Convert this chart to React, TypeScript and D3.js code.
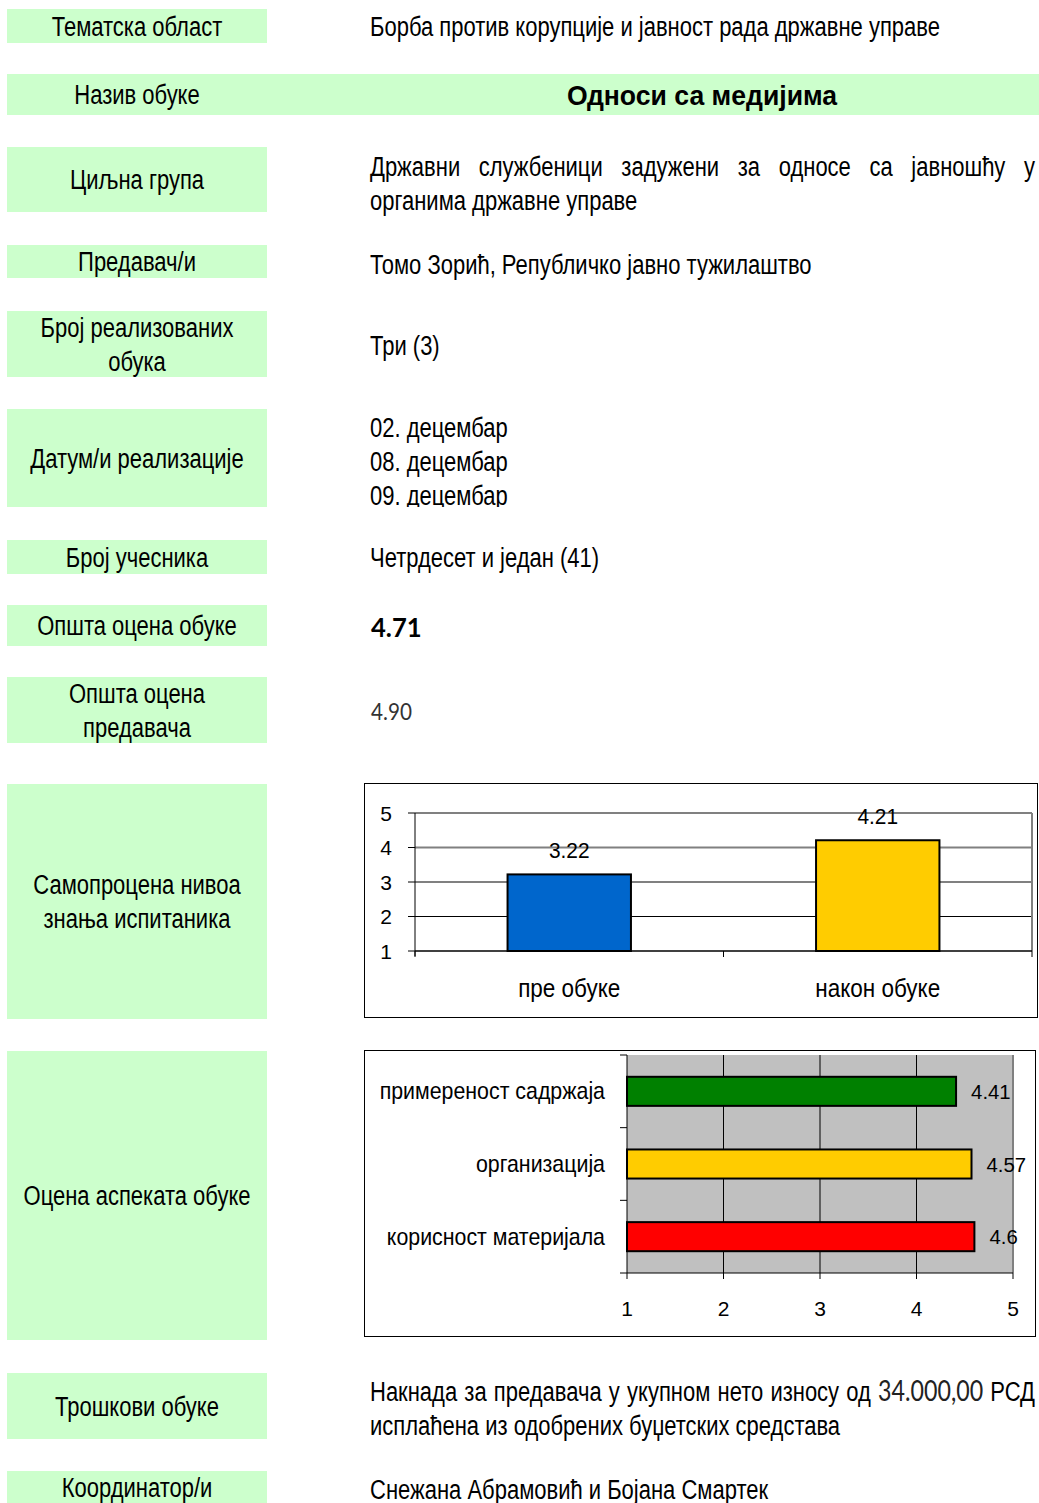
import React, { useEffect, useRef } from "react";
import * as d3 from "d3";

const W = 1039;
const H = 1503;

const rowLabels: string[][] = [
  ["Тематска област"],
  ["Назив обуке"],
  ["Циљна група"],
  ["Предавач/и"],
  ["Број реализованих", "обука"],
  ["Датум/и реализације"],
  ["Број учесника"],
  ["Општа оцена обуке"],
  ["Општа оцена", "предавача"],
  ["Самопроцена нивоа", "знања испитаника"],
  ["Оцена аспеката обуке"],
  ["Трошкови обуке"],
  ["Координатор/и"],
];
const rowTops = [9, 74, 147, 245, 311, 409, 540, 605, 677, 784, 1051, 1373, 1471];
const rowHeights = [34, 41, 65, 33, 66, 98, 34, 41, 66, 235, 289, 66, 32];

const topicText = "Борба против корупције и јавност рада државне управе";
const courseTitle = "Односи са медијима";
const targetLines = ["Државни службеници задужени за односе са јавношћу у", "органима државне управе"];
const lecturerText = "Томо Зорић, Републичко јавно тужилаштво";
const countText = "Три (3)";
const dateLines = ["02. децембар", "08. децембар", "09. децембар"];
const participantsText = "Четрдесет и један (41)";
const overallCourse = "4.71";
const overallLecturer = "4.90";
const costPre = "Накнада за предавача у укупном нето износу од ";
const costAmount = "34.000,00";
const costPost = " РСД";
const costLine2 = "исплаћена из одобрених буџетских средстава";
const coordText = "Снежана Абрамовић и Бојана Смартек";

const selfCats = ["пре обуке", "након обуке"];
const selfVals = [3.22, 4.21];
const selfColors = ["#0066CC", "#FFCC00"];
const selfTicks = [1, 2, 3, 4, 5];

const aspectCats = ["примереност садржаја", "организација", "корисност материјала"];
const aspectVals = [4.41, 4.57, 4.6];
const aspectColors = ["#008000", "#FFCC00", "#FF0000"];
const aspectTicks = [1, 2, 3, 4, 5];

const ARIAL = "'Liberation Sans', Arial, sans-serif";
const CALIBRI = "Lato, 'Open Sans', sans-serif";
const GREEN = "#CCFFCC";
const SX = 0.815;

export default function App() {
  const ref = useRef<SVGSVGElement | null>(null);

  useEffect(() => {
    const svg = d3.select(ref.current);
    svg.selectAll("*").remove();
    svg.append("rect").attr("width", W).attr("height", H).attr("fill", "#fff");

    const defs = svg.append("defs");
    defs.append("clipPath").attr("id", "clipDates")
      .append("rect").attr("x", 0).attr("y", rowTops[5]).attr("width", W).attr("height", rowHeights[5]);

    // condensed text helper
    const ntext = (parent: any, x: number, y: number, s: string, o: any = {}) => {
      const g = parent.append("g").attr("transform", `translate(${x},${y}) scale(${o.sx ?? SX},1)`);
      const t = g.append("text").attr("x", 0).attr("y", 0)
        .attr("font-family", o.family ?? ARIAL).attr("font-size", o.size ?? 27)
        .attr("font-weight", o.weight ?? "normal")
        .attr("text-anchor", o.anchor ?? "start").attr("fill", o.fill ?? "#000");
      if (s) t.text(s);
      return t;
    };
    const justify = (sel: any, target: number) => {
      const node = sel.node() as SVGTextElement;
      const len = node.getComputedTextLength();
      const txt = node.textContent || "";
      const gaps = (txt.match(/ /g) || []).length;
      if (gaps > 0) sel.attr("word-spacing", (target - len) / gaps);
    };

    // label boxes
    rowLabels.forEach((lines, i) => {
      const y = rowTops[i];
      const h = rowHeights[i];
      svg.append("rect").attr("x", 7).attr("y", y)
        .attr("width", i === 1 ? W - 7 : 260).attr("height", h).attr("fill", GREEN);
      const cy = y + h / 2;
      lines.forEach((ln, j) => {
        const off = (j - (lines.length - 1) / 2) * 34;
        ntext(svg, 137, cy + off + 9.5, ln, { anchor: "middle" });
      });
    });

    const tx = 370;
    const right = 1035;

    ntext(svg, tx, 36, topicText);
    ntext(svg, 702, 105, courseTitle, { anchor: "middle", weight: "bold", size: 28, sx: 0.95 });
    justify(ntext(svg, tx, 176, targetLines[0]), (right - tx) / SX);
    ntext(svg, tx, 210, targetLines[1]);
    ntext(svg, tx, 274, lecturerText);
    ntext(svg, tx, 355, countText);
    const dg = svg.append("g").attr("clip-path", "url(#clipDates)");
    dateLines.forEach((d, i) => {
      ntext(dg, tx, 437 + i * 34, d);
    });
    ntext(svg, tx, 567, participantsText);
    ntext(svg, 371, 637, overallCourse, { family: CALIBRI, size: 27, weight: "bold", sx: 0.95 });
    ntext(svg, 371, 720, overallLecturer, { family: CALIBRI, size: 23, sx: 0.9, fill: "#333" });

    const cost = ntext(svg, tx, 1401, "");
    cost.append("tspan").text(costPre);
    cost.append("tspan").attr("font-family", CALIBRI).attr("font-size", 28.5).attr("fill", "#222").text(costAmount);
    cost.append("tspan").text(costPost);
    justify(cost, (right - tx) / SX);
    ntext(svg, tx, 1435, costLine2);
    ntext(svg, tx, 1499, coordText);

    // ---- Chart 1: self assessment ----
    const c1 = svg.append("g");
    c1.append("rect").attr("x", 364.5).attr("y", 783.5).attr("width", 673).attr("height", 234)
      .attr("fill", "#fff").attr("stroke", "#000").attr("stroke-width", 1);
    const x1 = d3.scaleBand<string>().domain(selfCats).range([415, 1032]).padding(0);
    const y1 = d3.scaleLinear().domain([1, 5]).range([951, 813]);
    selfTicks.forEach((t) => {
      if (t === 1) return;
      c1.append("line").attr("x1", 415).attr("x2", 1032).attr("y1", y1(t)).attr("y2", y1(t))
        .attr("stroke", t === 2 ? "#000" : "#808080").attr("stroke-width", t === 2 ? 1 : 2);
    });
    c1.append("line").attr("x1", 1032).attr("x2", 1032).attr("y1", y1(5)).attr("y2", y1(1))
      .attr("stroke", "#808080").attr("stroke-width", 2);
    selfCats.forEach((c, i) => {
      const bx = (x1(c) as number) + x1.bandwidth() * 0.3;
      const bw = x1.bandwidth() * 0.4;
      c1.append("rect").attr("x", bx).attr("y", y1(selfVals[i])).attr("width", bw)
        .attr("height", y1(1) - y1(selfVals[i])).attr("fill", selfColors[i])
        .attr("stroke", "#000").attr("stroke-width", 2);
      ntext(c1, bx + bw / 2, y1(selfVals[i]) - 16, selfVals[i].toFixed(2), { anchor: "middle", size: 22, sx: 0.95 });
      ntext(c1, bx + bw / 2, 997, c, { anchor: "middle", size: 25, sx: 0.9 });
    });
    c1.append("line").attr("x1", 415).attr("x2", 1032).attr("y1", y1(1)).attr("y2", y1(1))
      .attr("stroke", "#000").attr("stroke-width", 1.5);
    c1.append("line").attr("x1", 415).attr("x2", 415).attr("y1", y1(5)).attr("y2", y1(1) + 5)
      .attr("stroke", "#000").attr("stroke-width", 1);
    selfTicks.forEach((t) => {
      c1.append("line").attr("x1", 408).attr("x2", 415).attr("y1", y1(t)).attr("y2", y1(t))
        .attr("stroke", "#000");
      ntext(c1, 392, y1(t) + 7.5, String(t), { anchor: "end", size: 21, sx: 1 });
    });
    [0, 1, 2].forEach((k) => {
      const xx = 415 + k * x1.step();
      c1.append("line").attr("x1", xx).attr("x2", xx).attr("y1", y1(1)).attr("y2", y1(1) + 6)
        .attr("stroke", "#000");
    });

    // ---- Chart 2: aspects ----
    const c2 = svg.append("g");
    c2.append("rect").attr("x", 364.5).attr("y", 1050.5).attr("width", 671).attr("height", 286)
      .attr("fill", "#fff").attr("stroke", "#000").attr("stroke-width", 1);
    const x2 = d3.scaleLinear().domain([1, 5]).range([627, 1013]);
    const y2 = d3.scaleBand<string>().domain(aspectCats).range([1055, 1273]).padding(0);
    c2.append("rect").attr("x", 627).attr("y", 1055).attr("width", x2(5) - 627).attr("height", 1273 - 1055)
      .attr("fill", "#C0C0C0");
    aspectTicks.forEach((t) => {
      if (t === 1) return;
      c2.append("line").attr("x1", x2(t)).attr("x2", x2(t)).attr("y1", 1055).attr("y2", 1273)
        .attr("stroke", t === 5 ? "#808080" : "#000").attr("stroke-width", t === 5 ? 2 : 1);
    });
    aspectCats.forEach((c, i) => {
      const by = (y2(c) as number) + y2.bandwidth() * 0.3;
      const bh = y2.bandwidth() * 0.4;
      c2.append("rect").attr("x", x2(1)).attr("y", by).attr("width", x2(aspectVals[i]) - x2(1))
        .attr("height", bh).attr("fill", aspectColors[i]).attr("stroke", "#000").attr("stroke-width", 2);
      ntext(c2, x2(aspectVals[i]) + 15, by + bh / 2 + 7.5, String(aspectVals[i]), { size: 21, sx: 0.97 });
      ntext(c2, 605, by + bh / 2 + 8, c, { anchor: "end", size: 24, sx: 0.89 });
    });
    c2.append("line").attr("x1", 627).attr("x2", 627).attr("y1", 1055).attr("y2", 1273).attr("stroke", "#000");
    c2.append("line").attr("x1", 627).attr("x2", 1013).attr("y1", 1273).attr("y2", 1273).attr("stroke", "#000");
    [0, 1, 2, 3].forEach((k) => {
      const yy = 1055 + k * y2.step();
      c2.append("line").attr("x1", 620).attr("x2", 627).attr("y1", yy).attr("y2", yy).attr("stroke", "#000");
    });
    aspectTicks.forEach((t) => {
      c2.append("line").attr("x1", x2(t)).attr("x2", x2(t)).attr("y1", 1273).attr("y2", 1279).attr("stroke", "#000");
      ntext(c2, x2(t), 1316, String(t), { anchor: "middle", size: 21, sx: 1 });
    });
  }, []);

  return (
    <div style={{ position: "absolute", left: 0, top: 0 }}>
      <svg ref={ref} width={W} height={H} style={{ display: "block" }} />
    </div>
  );
}
